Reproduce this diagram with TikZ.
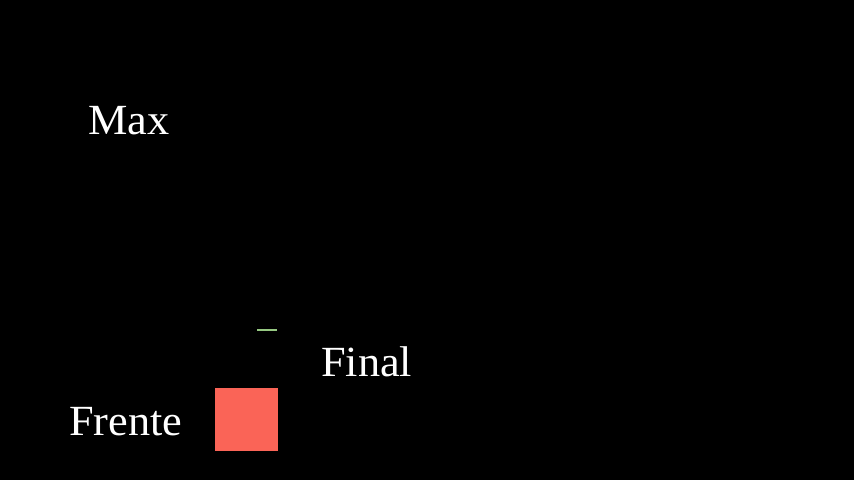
\documentclass[tikz,border=0pt]{standalone}
\usepackage{fontspec}
\setmainfont[FakeStretch=1.03]{Liberation Serif}
\begin{document}
\begin{tikzpicture}[x=1pt,y=-1pt,
  lbl/.style={text=white,font=\fontsize{43}{48}\selectfont,inner sep=0pt,anchor=base west}]
\fill[black] (0,0) rectangle (854,480);
\useasboundingbox (0,0) rectangle (854,480);
\node[lbl] (max) at (88,134) {Max};
\node[lbl] (final) at (321,376) {Final};
\node[lbl] (frente) at (69,435) {Frente};
\node[fill={rgb,255:red,250;green,100;blue,87},minimum width=63pt,minimum height=63pt,inner sep=0pt,anchor=north west] (box) at (215,388) {};
\coordinate (g1) at (257,330);
\coordinate (g2) at (277,330);
\draw[color={rgb,255:red,150;green,200;blue,130},line width=2pt] (g1) -- (g2);
\end{tikzpicture}
\end{document}
